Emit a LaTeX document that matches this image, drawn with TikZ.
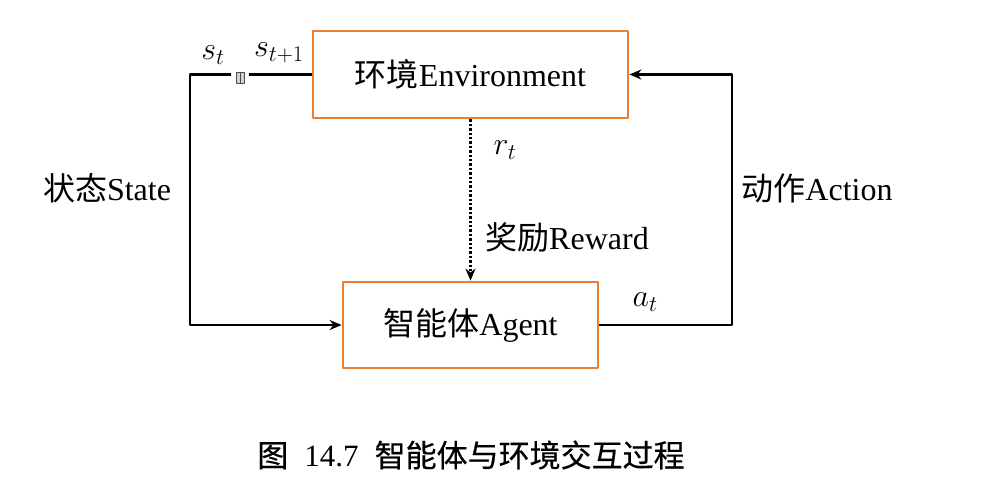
\RequirePackage{fix-cm}
\documentclass[tikz,border=0pt]{standalone}
\usepackage{fontspec}
\setmainfont{Liberation Serif}
\newfontfamily\cjk{Noto Sans CJK SC}
\newfontfamily\cjkdam[FakeBold=0.5]{Noto Sans CJK SC}
\usetikzlibrary{arrows.meta}
\definecolor{cam}{HTML}{ED7D31}
\begin{document}
\begin{tikzpicture}[x=1pt, y=-1pt, font=\fontsize{32}{38}\selectfont, line join=round, line width=2.6pt, >={Stealth[length=12pt, width=10pt]}]
	\useasboundingbox (0,0) rectangle (997,499);
	\tikzset{khung/.style={draw=cam, line width=2.8pt, inner sep=0pt}}
	\tikzset{nhan/.style={inner sep=1pt}}
	\node[khung, minimum width=315pt, minimum height=87pt] (moitruong) at (470.5,74.5) {{\cjk 环境}Environment};
	\node[khung, minimum width=255pt, minimum height=86pt] (tacnhan) at (470.5,325) {{\cjk 智能体}Agent};
	\node[draw=gray!60!black, fill=gray!35, line width=.8pt, minimum width=8pt, minimum height=11pt, inner sep=0pt, outer xsep=5pt] (tre) at (240,77.5) {};
	\draw[line width=.8pt, gray!60!black] (tre.north) -- (tre.south);
	\coordinate (trai) at (190,200);
	\coordinate (phai) at (732,200);
	\draw (moitruong.west) -- (tre.east |- moitruong.west);
	\draw[->] (tre.west |- moitruong.west) -| (trai |- tacnhan.west) -- (tacnhan.west);
	\draw[->] (tacnhan.east) -| (phai |- moitruong.east) -- (moitruong.east);
	\draw[->, line width=2.4pt, dash pattern=on 2.4pt off 2pt] (moitruong.south) -- (tacnhan.north);
	\node[nhan] (st) at (213,55) {$s_t$};
	\node[nhan] (st1) at (279,53) {$s_{t+1}$};
	\node[nhan] (rt) at (505,150) {$r_t$};
	\node[nhan] (at) at (645,302) {$a_t$};
	\node[nhan] (trangthai) at (107,188) {{\cjk 状态}State};
	\node[nhan] (hanhdong) at (817,188) {{\cjk 动作}Action};
	\node[nhan] (thuong) at (567,237) {{\cjk 奖励}Reward};
	\node[nhan, font=\fontsize{31}{36}\selectfont] (chuthich) at (471,455) {{\cjkdam 图}\hspace{16pt}14.7\hspace{16pt}{\cjkdam 智能体与环境交互过程}};
\end{tikzpicture}
\end{document}
